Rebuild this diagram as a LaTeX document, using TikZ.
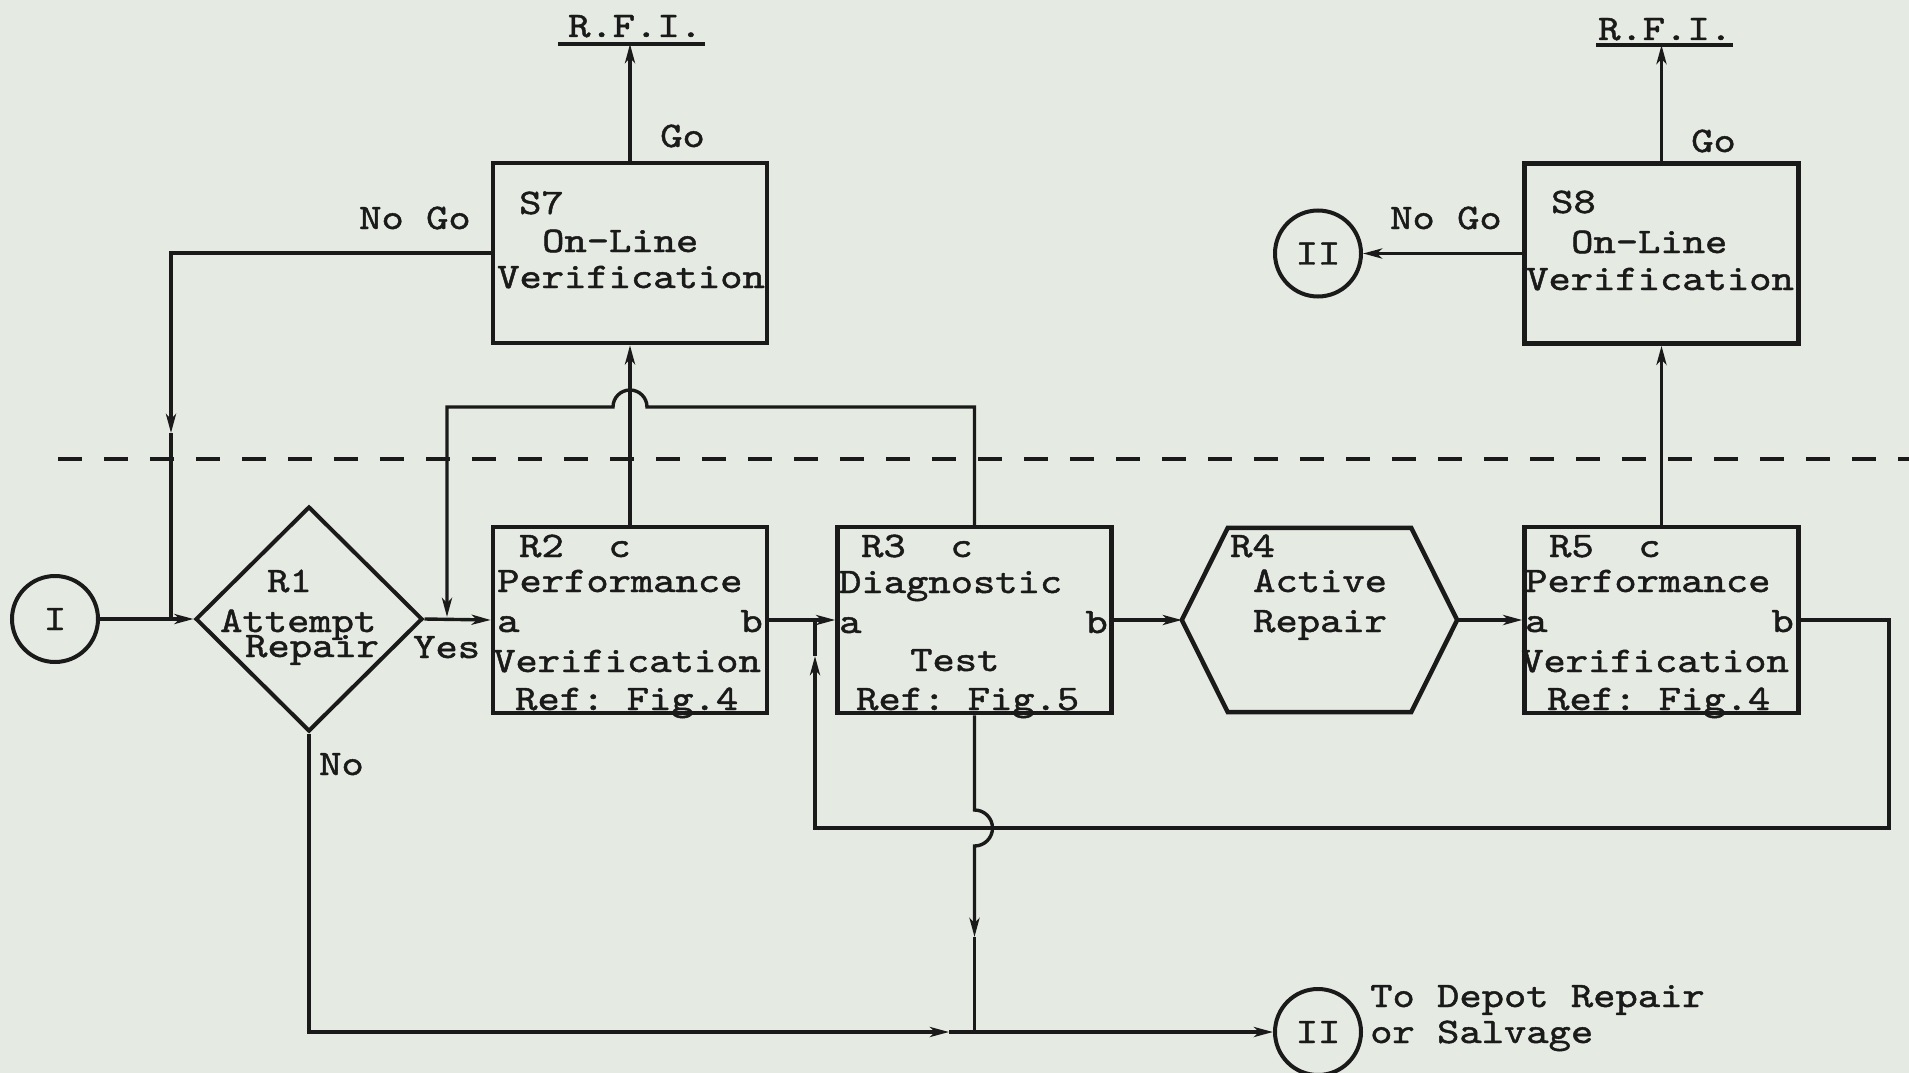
\documentclass[tikz,border=0pt]{standalone}
\usepackage{fontspec}
\newfontfamily\tw{lmmono10-regular.otf}[FakeStretch=1.18,FakeBold=1.3]
\usetikzlibrary{arrows.meta,shapes.geometric}
\definecolor{bg}{RGB}{229,235,226}
\definecolor{ink}{RGB}{26,26,26}
\tikzset{
  txt/.style={font={\tw\fontsize{36pt}{40pt}\selectfont}, text=ink, inner sep=0pt, anchor=base west},
  box/.style={draw=ink, line width=4.5pt, rectangle, inner sep=0pt, minimum width=274pt, minimum height=186pt},
  conn/.style={draw=ink, line width=3.4pt},
  arr/.style={conn, -{Stealth[length=19pt,width=10pt,inset=5pt]}},
  term/.style={circle, draw=ink, line width=4pt, minimum size=86pt, inner sep=0pt,
               font={\tw\fontsize{36pt}{40pt}\selectfont}, text=ink},
}
\begin{document}
\begin{tikzpicture}[x=1pt,y=-1pt]
\fill[bg] (0,0) rectangle (1909,1073);
\useasboundingbox (0,0) rectangle (1909,1073);

% dashed boundary
\coordinate (dl) at (58,459);
\coordinate (dr) at (1909,459);
\draw[ink, line width=3.8pt, dash pattern=on 24pt off 22pt] (dl) -- (dr);

% shapes
\node[term] (CI) at (55,619) {I};
\node[draw=ink, line width=4pt, diamond, shape aspect=1, inner sep=0pt,
      minimum width=227pt, minimum height=225pt] (R1) at (309,619) {};
\node[box] (R2) at (630,620) {};
\node[box] (R3) at (974.5,620) {};
\node[inner sep=0pt, minimum width=275pt, minimum height=184pt] (R4) at (1319.5,620) {};
\draw[ink, line width=4.5pt, line join=miter]
  (R4.west) -- ([xshift=46pt]R4.north west) -- ([xshift=-46pt]R4.north east)
  -- (R4.east) -- ([xshift=-46pt]R4.south east) -- ([xshift=46pt]R4.south west) -- cycle;
\node[box] (R5) at (1661.5,620) {};
\node[box, minimum height=180pt] (S7) at (630,253) {};
\node[box, minimum height=180pt] (S8) at (1661.5,253.5) {};
\node[term] (IItop) at (1318,253.5) {II};
\node[term] (IIbot) at (1318,1032) {II};

% R.F.I. labels
\node[txt] (rfiT1) at (568,37) {R.F.I.};
\node[txt] (rfiT2) at (1598,40) {R.F.I.};
\draw[ink, line width=3.4pt] ([xshift=-10pt,yshift=-7pt]rfiT1.base west) -- ([xshift=3pt,yshift=-7pt]rfiT1.base east);
\draw[ink, line width=3.4pt] ([xshift=-2pt,yshift=-5pt]rfiT2.base west) -- ([xshift=1pt,yshift=-5pt]rfiT2.base east);
\coordinate (rfi1) at (630,44);
\coordinate (rfi2) at (1661.5,45);

% texts in boxes
\node[txt] (r1a) at (267,592) {R1};
\node[txt] (r1b) at (220,632) {Attempt};
\node[txt] (r1c) at (245,657) {Repair};

\node[txt] (r2a) at (519,557) {R2~~c};
\node[txt] (r2b) at (497,592) {Performance};
\node[txt] (r2c) at (497,632) {a};
\node[txt, anchor=base east] (r2d) at (763,632) {b};
\node[txt] (r2e) at (493,672) {Verification};
\node[txt] (r2f) at (515,710) {Ref:~Fig.4};

\node[txt] (r3a) at (861,557) {R3~~c};
\node[txt] (r3b) at (839,593) {Diagnostic};
\node[txt] (r3c) at (839,633) {a};
\node[txt, anchor=base east] (r3d) at (1108,633) {b};
\node[txt] (r3e) at (910,671) {Test};
\node[txt] (r3f) at (856,710) {Ref:~Fig.5};

\node[txt] (r4a) at (1230,557) {R4};
\node[txt] (r4b) at (1253,592) {Active};
\node[txt] (r4c) at (1253,632) {Repair};

\node[txt] (r5a) at (1549,557) {R5~~c};
\node[txt] (r5b) at (1525,592) {Performance};
\node[txt] (r5c) at (1525,632) {a};
\node[txt, anchor=base east] (r5d) at (1794,632) {b};
\node[txt] (r5e) at (1521,672) {Verification};
\node[txt] (r5f) at (1547,710) {Ref:~Fig.4};

\node[txt] (s7a) at (519,214) {S7};
\node[txt] (s7b) at (542,252) {On-Line};
\node[txt] (s7c) at (497,288) {Verification};

\node[txt] (s8a) at (1551,213) {S8};
\node[txt] (s8b) at (1571,253) {On-Line};
\node[txt] (s8c) at (1526,290) {Verification};

% connector labels
\node[txt] (yes) at (413,658) {Yes};
\node[txt] (no) at (319,775) {No};
\node[txt] (ng1) at (359,229) {No~Go};
\node[txt] (go1) at (660,147) {Go};
\node[txt] (ng2) at (1390,229) {No~Go};
\node[txt] (go2) at (1691,152) {Go};
\node[txt] (dep1) at (1370,1007) {To~Depot~Repair};
\node[txt] (dep2) at (1370,1043) {or~Salvage};

% connectors
\coordinate (j1) at (171,619);
\coordinate (a1) at (171,433);
\draw[arr] (S7.west) -| (a1);
\draw[conn] (a1) -- (j1);
\draw[arr] (CI.east) -- (R1.west);
\draw[arr] (R1.east) -- (R2.west);

\draw[arr] (R3.north) -- (974.5,407) -- (647,407)
   arc[start angle=0, end angle=180, radius=17pt] -- (447,407) -- (447,617);

\draw[arr] (R2.north) -- (S7.south);
\draw[arr] (S7.north) -- (rfi1);
\draw[arr] (R2.east) -- (R3.west);
\draw[arr] (R3.east) -- (R4.west);
\draw[arr] (R4.east) -- (R5.west);
\draw[arr] (R5.north) -- (S8.south);
\draw[arr] (S8.north) -- (rfi2);
\draw[arr] (S8.west) -- (IItop.east);

\coordinate (a2) at (815,656);
\draw[arr] (R5.east) -- (1889,620) -- (1889,828) -- (815,828) -- (a2);
\draw[conn] (a2) -- (815,620);

\coordinate (a3) at (974.5,937);
\draw[arr] (R3.south) -- (974.5,810)
   arc[start angle=90, end angle=-90, radius=18pt] -- (a3);
\draw[conn] (a3) -- (974.5,1032);

\coordinate (a4) at (949,1032);
\draw[arr] (R1.south) -- (309,1032) -- (a4);
\draw[arr] (a4) -- (IIbot.west);
\end{tikzpicture}
\end{document}
